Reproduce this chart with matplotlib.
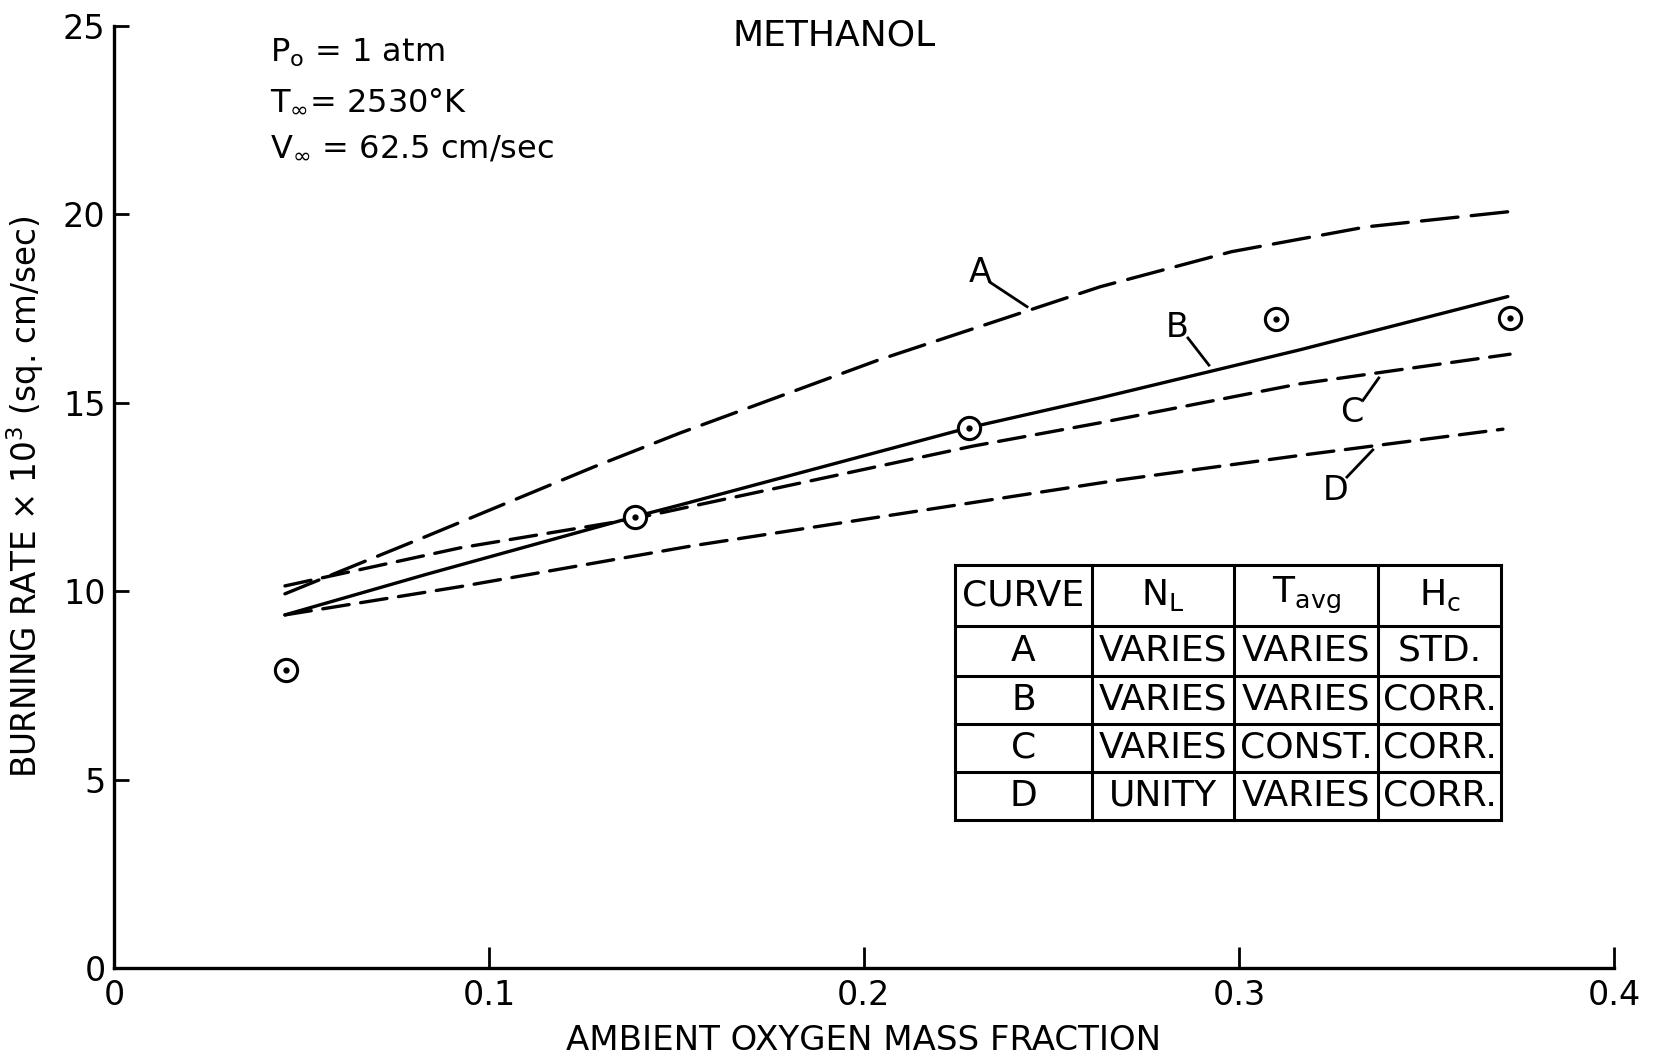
import matplotlib
matplotlib.use("Agg")
import matplotlib.pyplot as plt

# Calculated burning-rate curves (oxygen mass fraction vs rate x 10^3)
a_x = [0.0456, 0.0834, 0.128, 0.151, 0.204, 0.263, 0.298, 0.334, 0.3736]
a_y = [9.93, 11.46, 13.3, 14.2, 16.14, 18.08, 19.01, 19.67, 20.09]

b_x = [0.0456, 0.0834, 0.139, 0.151, 0.228, 0.263, 0.316, 0.3717]
b_y = [9.37, 10.45, 11.98, 12.29, 14.34, 15.13, 16.4, 17.82]

c_x = [0.0456, 0.0923, 0.137, 0.229, 0.263, 0.316, 0.3723]
c_y = [10.14, 11.15, 11.89, 13.85, 14.47, 15.5, 16.29]

d_x = [0.0456, 0.0923, 0.154, 0.268, 0.316, 0.3704]
d_y = [9.37, 10.12, 11.2, 12.95, 13.6, 14.3]

# Measured burning rates
exp_x = [0.046, 0.139, 0.228, 0.310, 0.3723]
exp_y = [7.91, 11.98, 14.34, 17.22, 17.26]

x_ticks = [0, 0.1, 0.2, 0.3, 0.4]
x_tick_labels = ["0", "0.1", "0.2", "0.3", "0.4"]
y_ticks = [0, 5, 10, 15, 20, 25]
y_tick_labels = ["0", "5", "10", "15", "20", "25"]

table_header = ["CURVE", r"N$_\mathregular{L}$", r"T$_\mathregular{avg}$", r"H$_\mathregular{c}$"]
table_rows = [
    ["A", "VARIES", "VARIES", "STD."],
    ["B", "VARIES", "VARIES", "CORR."],
    ["C", "VARIES", "CONST.", "CORR."],
    ["D", "UNITY", "VARIES", "CORR."],
]

plt.rcParams["font.family"] = ["DejaVu Sans"]
plt.rcParams["mathtext.fontset"] = "dejavusans"

fig = plt.figure(figsize=(16.56, 10.58), dpi=100)
ax = fig.add_axes([0.0688, 0.0851, 0.9058, 0.8903])
ax.set_xlim(0, 0.4)
ax.set_ylim(0, 25)

lw = 2.4
ink = "black"
ax.plot(a_x, a_y, color=ink, lw=lw, dashes=(11, 4), dash_capstyle="round")
ax.plot(b_x, b_y, color=ink, lw=lw, solid_capstyle="round")
ax.plot(c_x, c_y, color=ink, lw=lw, dashes=(8, 3.5), dash_capstyle="round")
ax.plot(d_x, d_y, color=ink, lw=lw, dashes=(8, 3.5), dash_capstyle="round")

ax.plot(exp_x, exp_y, linestyle="none", marker="o", ms=16, mfc="white",
        mec=ink, mew=2.2, zorder=5)
ax.plot(exp_x, exp_y, linestyle="none", marker="o", ms=3.5, mfc=ink,
        mec=ink, zorder=6)

# Curve labels with leader lines
labels = [
    ("A", (0.2309, 18.47), [(0.2336, 18.2), (0.2435, 17.55)]),
    ("B", (0.2835, 17.01), [(0.2864, 16.72), (0.2920, 16.0)]),
    ("C", (0.3301, 14.73), [(0.3331, 15.07), (0.3373, 15.66)]),
    ("D", (0.3259, 12.66), [(0.3288, 13.03), (0.3357, 13.75)]),
]
for name, (tx, ty), seg in labels:
    ax.text(tx, ty, name, fontsize=24, ha="center", va="center")
    ax.plot([seg[0][0], seg[1][0]], [seg[0][1], seg[1][1]], color=ink, lw=2.0)

# Conditions
ax.text(0.0416, 24.06, r"P$_\mathregular{o}$ = 1 atm", fontsize=23, va="baseline")
ax.text(0.0416, 22.78, r"T$_\infty$= 2530°K", fontsize=23, va="baseline")
ax.text(0.0416, 21.54, r"V$_\infty$ = 62.5 cm/sec", fontsize=23, va="baseline")
ax.text(0.192, 24.75, "METHANOL", fontsize=26, ha="center", va="center")

# Table of curve assumptions
col_edges = [0.2243, 0.2608, 0.2987, 0.3371, 0.3699]
row_edges = [10.70, 9.08, 7.75, 6.48, 5.20, 3.93]
for xe in col_edges:
    ax.plot([xe, xe], [row_edges[-1], row_edges[0]], color=ink, lw=2.2, solid_capstyle="projecting")
for ye in row_edges:
    ax.plot([col_edges[0], col_edges[-1]], [ye, ye], color=ink, lw=2.2, solid_capstyle="projecting")
all_rows = [table_header] + table_rows
for r, row in enumerate(all_rows):
    yc = (row_edges[r] + row_edges[r + 1]) / 2
    for c, txt in enumerate(row):
        xc = (col_edges[c] + col_edges[c + 1]) / 2
        ax.text(xc, yc, txt, fontsize=26, ha="center", va="center")

for side in ("top", "right"):
    ax.spines[side].set_visible(False)
for side in ("left", "bottom"):
    ax.spines[side].set_linewidth(2.4)

ax.set_xticks(x_ticks)
ax.set_xticklabels(x_tick_labels)
ax.set_yticks(y_ticks)
ax.set_yticklabels(y_tick_labels)
ax.tick_params(axis="x", direction="in", length=15, width=2.0, labelsize=24, pad=8)
ax.tick_params(axis="y", direction="in", length=11, width=2.0, labelsize=24, pad=6)

ax.set_xlabel("AMBIENT OXYGEN MASS FRACTION", fontsize=24.5)
ax.xaxis.set_label_coords(0.5, -0.059)
ax.set_ylabel(r"BURNING RATE × 10$^\mathregular{3}$ (sq. cm/sec)", fontsize=23.5)
ax.yaxis.set_label_coords(-0.045, 0.5)

fig.savefig("out.png", dpi=100)
